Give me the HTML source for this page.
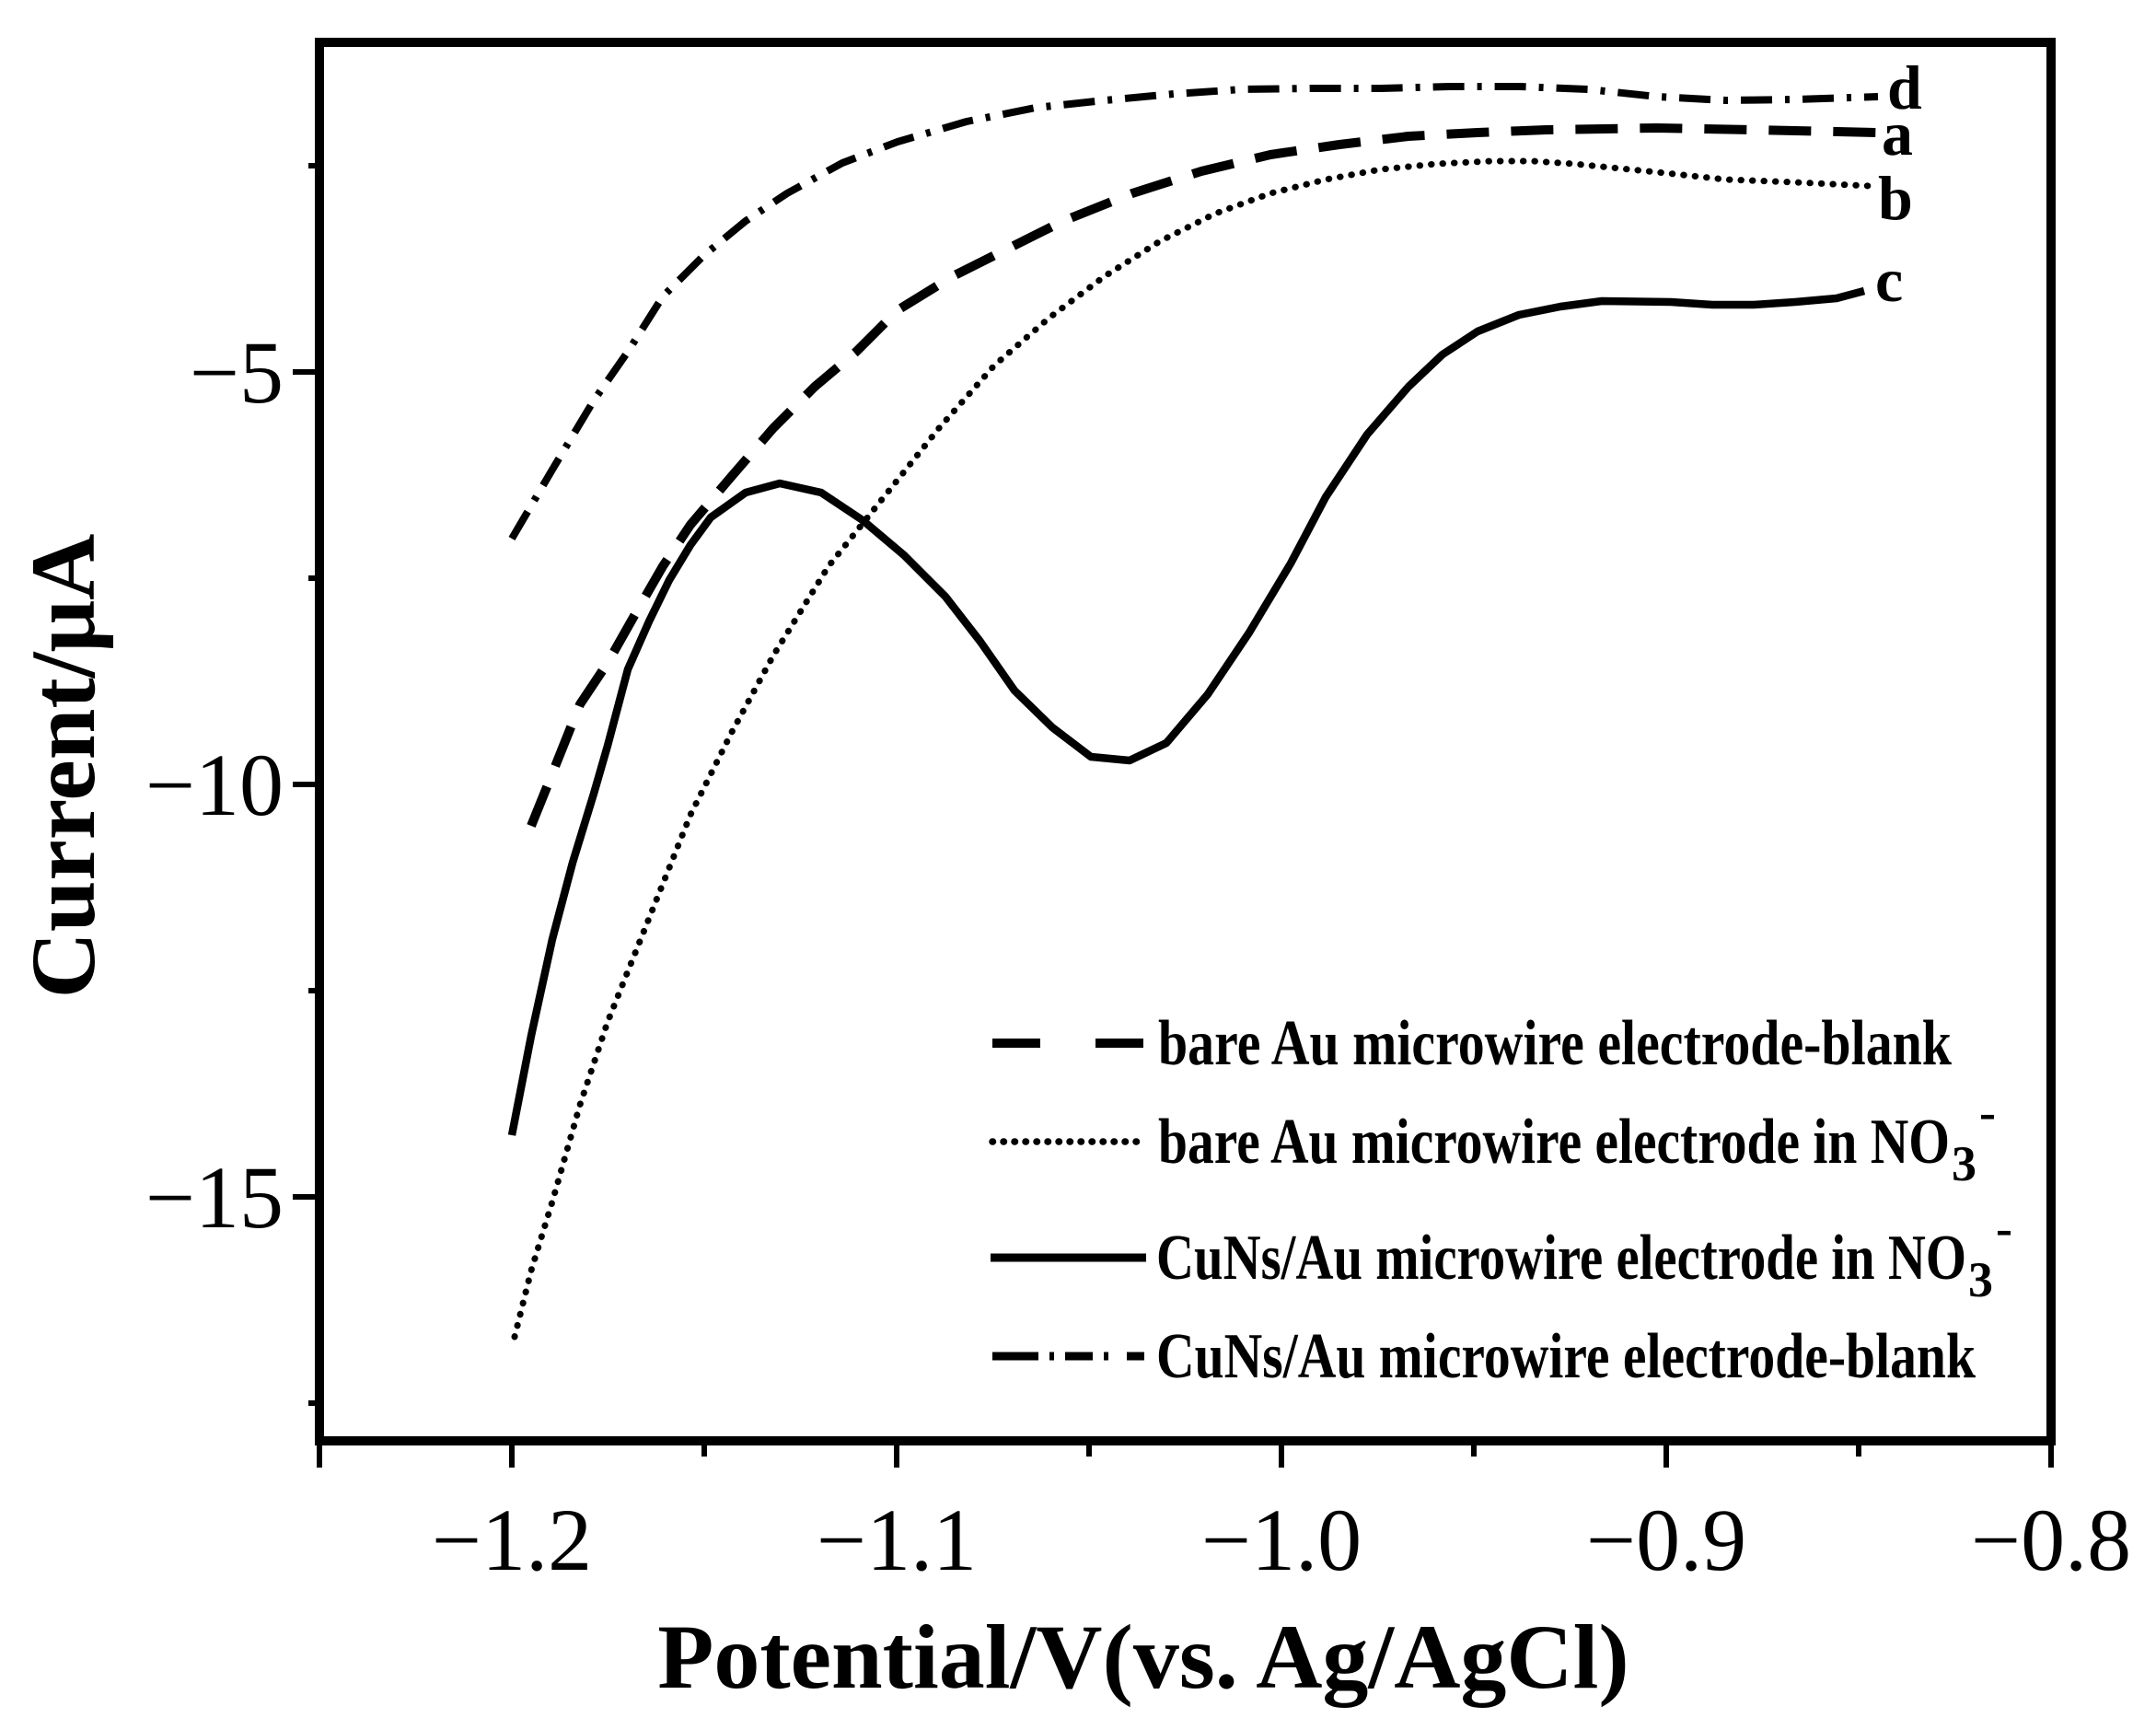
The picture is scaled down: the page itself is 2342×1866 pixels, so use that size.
<!DOCTYPE html>
<html><head><meta charset="utf-8"><style>body{margin:0;background:#fff}svg{display:block}</style></head>
<body>
<svg width="2342" height="1866" viewBox="0 0 2342 1866" xmlns="http://www.w3.org/2000/svg" font-family="'Liberation Serif', serif">
<rect width="2342" height="1866" fill="#fff"/>
<g fill="none" stroke="#000" stroke-linejoin="round">
<polyline stroke-width="8" stroke-dasharray="34,14,5,14" points="556,585 600,510 645,435 682,382 720,322 765,277 810,240 855,210 915,177 975,154 1050,132 1125,117 1200,109 1275,102 1350,97 1425,96 1500,96 1575,94 1650,94 1725,97 1800,105 1875,109 1950,108 2040,105"/>
<polyline stroke-width="10" stroke-dasharray="46,24" points="577,897 600,840 630,765 660,720 690,667 720,615 750,570 795,517 840,465 885,420 930,382 975,337 1035,300 1095,270 1155,240 1230,210 1305,186 1380,168 1455,157 1530,148 1605,144 1680,141 1800,139 1905,141 2040,144"/>
<polyline stroke-width="7" stroke-linecap="round" stroke-dasharray="0.5,12" points="559,1452 577,1380 600,1305 630,1200 660,1110 690,1035 720,960 750,885 795,795 840,712 900,615 960,540 1020,465 1080,397 1140,345 1200,300 1260,262 1320,232 1380,210 1440,195 1500,184 1560,178 1620,175 1665,175 1710,178 1800,187 1875,195 1950,198 2032,202"/>
<polyline stroke-width="8.5" points="556,1233 577,1125 600,1020 622,937 645,862 660,810 682,727 705,675 727,630 750,592 772,562 810,535 847,525 892,535 937,565 982,603 1027,648 1065,697 1102,750 1143,790 1185,822 1227,826 1267,807 1312,754 1357,687 1402,612 1440,540 1485,472 1530,420 1567,385 1605,360 1650,342 1695,333 1740,327 1815,328 1860,331 1905,331 1950,328 1995,324 2025,316"/>
</g>
<g stroke="#000" stroke-width="10" fill="none">
<rect x="347" y="46" width="1881" height="1519"/>
</g>
<g stroke="#000" stroke-width="6">
<line x1="347" y1="1565" x2="347" y2="1594"/>
<line x1="556" y1="1565" x2="556" y2="1594"/>
<line x1="765" y1="1565" x2="765" y2="1582"/>
<line x1="974" y1="1565" x2="974" y2="1594"/>
<line x1="1183" y1="1565" x2="1183" y2="1582"/>
<line x1="1392" y1="1565" x2="1392" y2="1594"/>
<line x1="1601" y1="1565" x2="1601" y2="1582"/>
<line x1="1810" y1="1565" x2="1810" y2="1594"/>
<line x1="2019" y1="1565" x2="2019" y2="1582"/>
<line x1="2228" y1="1565" x2="2228" y2="1594"/>
<line x1="335" y1="180" x2="347" y2="180"/>
<line x1="318" y1="404" x2="347" y2="404"/>
<line x1="335" y1="628" x2="347" y2="628"/>
<line x1="318" y1="852" x2="347" y2="852"/>
<line x1="335" y1="1076" x2="347" y2="1076"/>
<line x1="318" y1="1300" x2="347" y2="1300"/>
<line x1="335" y1="1524" x2="347" y2="1524"/>
</g>
<g font-size="96" text-anchor="middle">
<text x="556" y="1705">−1.2</text>
<text x="974" y="1705">−1.1</text>
<text x="1392" y="1705">−1.0</text>
<text x="1810" y="1705">−0.9</text>
<text x="2228" y="1705">−0.8</text>
</g>
<g font-size="96" text-anchor="end">
<text x="308" y="437">−5</text>
<text x="308" y="885">−10</text>
<text x="308" y="1333">−15</text>
</g>
<text x="1242" y="1833" font-size="100" font-weight="bold" text-anchor="middle">Potential/V(vs. Ag/AgCl)</text>
<text transform="translate(102,832) rotate(-90)" font-size="100" font-weight="bold" text-anchor="middle">Current/μA</text>
<g font-size="68" font-weight="bold">
<text x="2050" y="118">d</text>
<text x="2044" y="168">a</text>
<text x="2040" y="238">b</text>
<text x="2037" y="327">c</text>
</g>
<g stroke="#000" fill="none">
<line x1="1078" y1="1133" x2="1243" y2="1133" stroke-width="10" stroke-dasharray="52,60"/>
<line x1="1078" y1="1240" x2="1243" y2="1240" stroke-width="7.5" stroke-linecap="round" stroke-dasharray="0.5,11.5"/>
<line x1="1076" y1="1366" x2="1245" y2="1366" stroke-width="9"/>
<line x1="1078" y1="1473" x2="1243" y2="1473" stroke-width="9" stroke-dasharray="50,12,5,12,30,12,5,20"/>
</g>
<g font-size="70" font-weight="bold">
<text x="1258" y="1156" textLength="862" lengthAdjust="spacingAndGlyphs">bare Au microwire electrode-blank</text>
<text x="1258" y="1263" textLength="860" lengthAdjust="spacingAndGlyphs">bare Au microwire electrode in NO</text>
<text x="2120" y="1282" font-size="54">3</text>
<text x="2150" y="1226" font-size="54">-</text>
<text x="1256" y="1389" textLength="880" lengthAdjust="spacingAndGlyphs">CuNs/Au microwire electrode in NO</text>
<text x="2138" y="1408" font-size="54">3</text>
<text x="2168" y="1352" font-size="54">-</text>
<text x="1256" y="1496" textLength="890" lengthAdjust="spacingAndGlyphs">CuNs/Au microwire electrode-blank</text>
</g>
</svg>
</body></html>
